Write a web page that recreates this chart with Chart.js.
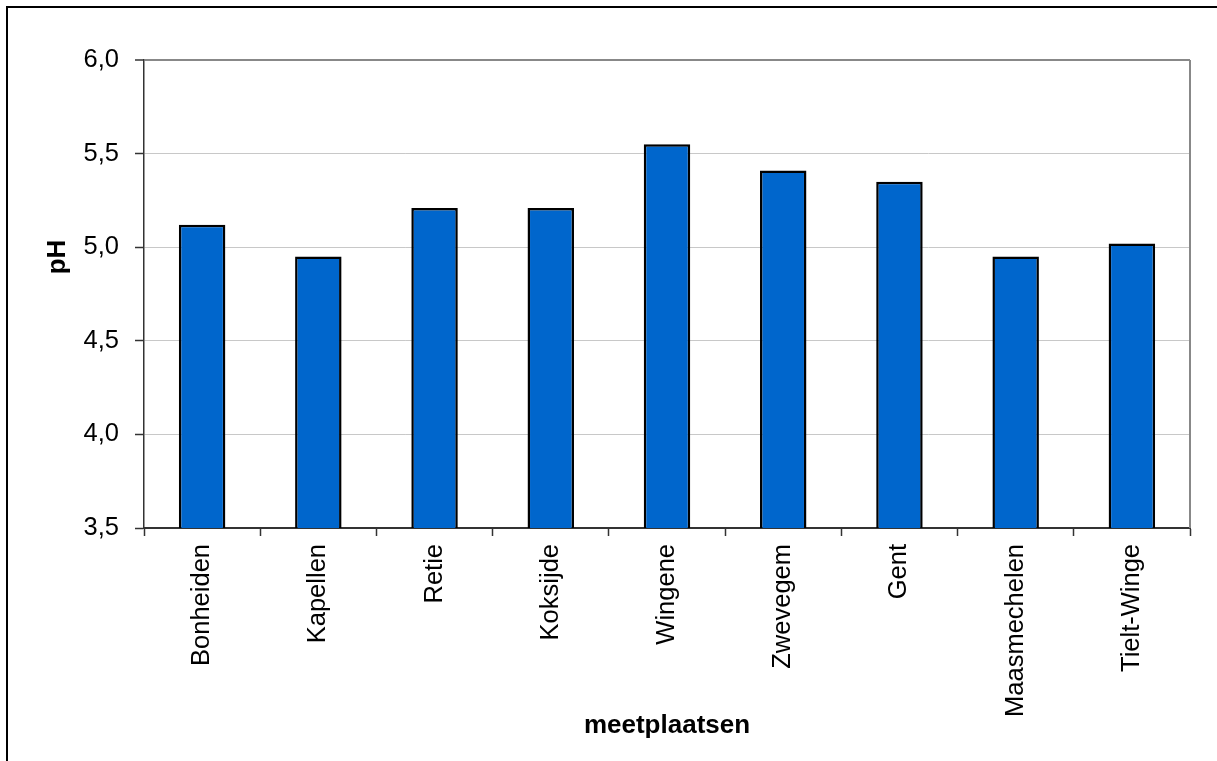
<!DOCTYPE html>
<html>
<head>
<meta charset="utf-8">
<title>pH per meetplaats</title>
<script src="https://cdn.jsdelivr.net/npm/chart.js@4"></script>
<style>
  html, body { margin: 0; padding: 0; background: #fff; }
  #wrap { width: 1217px; height: 761px; position: relative; }
</style>
</head>
<body>
<div id="wrap"><canvas id="phChart" width="1217" height="761"></canvas></div>
<script>
// meetplaatsen en gemeten pH
const meetplaatsen = ['Bonheiden', 'Kapellen', 'Retie', 'Koksijde', 'Wingene', 'Zwevegem', 'Gent', 'Maasmechelen', 'Tielt-Winge'];
const phWaarden = [5.12, 4.95, 5.21, 5.21, 5.55, 5.41, 5.35, 4.95, 5.02];
const yMin = 3.5, yMax = 6.0, yStap = 0.5;

const FONT = '"Liberation Sans", Arial, sans-serif';

// witte achtergrond, kader links/boven en de titels van de assen
const kaderPlugin = {
  id: 'kader',
  beforeDraw(chart) {
    const ctx = chart.ctx;
    ctx.save();
    ctx.fillStyle = '#fff';
    ctx.fillRect(0, 0, chart.width, chart.height);
    ctx.strokeStyle = '#000';
    ctx.lineWidth = 2;
    ctx.beginPath();
    ctx.moveTo(7, chart.height);
    ctx.lineTo(7, 7);
    ctx.lineTo(chart.width, 7);
    ctx.stroke();
    ctx.restore();
  },
  afterDraw(chart) {
    const ctx = chart.ctx;
    const a = chart.chartArea;
    ctx.save();
    // grijze rand rechts van het tekengebied
    ctx.strokeStyle = '#888';
    ctx.lineWidth = 2;
    ctx.beginPath();
    ctx.moveTo(a.right, a.top);
    ctx.lineTo(a.right, a.bottom);
    ctx.stroke();

    ctx.fillStyle = '#000';
    ctx.font = 'bold 26px ' + FONT;
    ctx.textAlign = 'center';
    ctx.textBaseline = 'middle';
    ctx.fillText('meetplaatsen', (a.left + a.right) / 2, 726);

    ctx.translate(58, 257);
    ctx.rotate(-Math.PI / 2);
    ctx.fillText('pH', 0, 0);
    ctx.restore();
  }
};

new Chart(document.getElementById('phChart'), {
  type: 'bar',
  data: {
    labels: meetplaatsen,
    datasets: [{
      data: phWaarden,
      backgroundColor: '#0066CC',
      borderColor: '#000',
      borderWidth: 2.5,
      borderSkipped: false,
      categoryPercentage: 1,
      barPercentage: 0.4
    }]
  },
  options: {
    responsive: false,
    animation: false,
    layout: { padding: { left: 0, top: 60, right: 27, bottom: 0 } },
    plugins: {
      legend: { display: false },
      tooltip: { enabled: false }
    },
    scales: {
      x: {
        afterFit(scale) { scale.height = 233; },
        grid: {
          offset: true,
          drawOnChartArea: false,
          drawTicks: true,
          tickLength: 8,
          tickColor: '#333',
          tickWidth: 1.5
        },
        border: { color: '#333', width: 2 },
        ticks: {
          autoSkip: false,
          minRotation: 90,
          maxRotation: 90,
          padding: 8,
          color: '#000',
          font: { family: FONT, size: 25.5 }
        }
      },
      y: {
        min: yMin,
        max: yMax,
        afterFit(scale) { scale.width = 144; },
        grid: {
          color: (c) => c.tick && c.tick.value === yMax ? '#888' : '#c8c8c8',
          lineWidth: (c) => c.tick && c.tick.value === yMax ? 2 : 1,
          tickLength: 9,
          tickColor: '#333',
          tickWidth: 1.5
        },
        border: { color: '#333', width: 1.5 },
        ticks: {
          stepSize: yStap,
          padding: 16,
          color: '#000',
          font: { family: FONT, size: 25.5 },
          callback: (v) => v.toFixed(1).replace('.', ',')
        }
      }
    }
  },
  plugins: [kaderPlugin]
});
</script>
</body>
</html>
